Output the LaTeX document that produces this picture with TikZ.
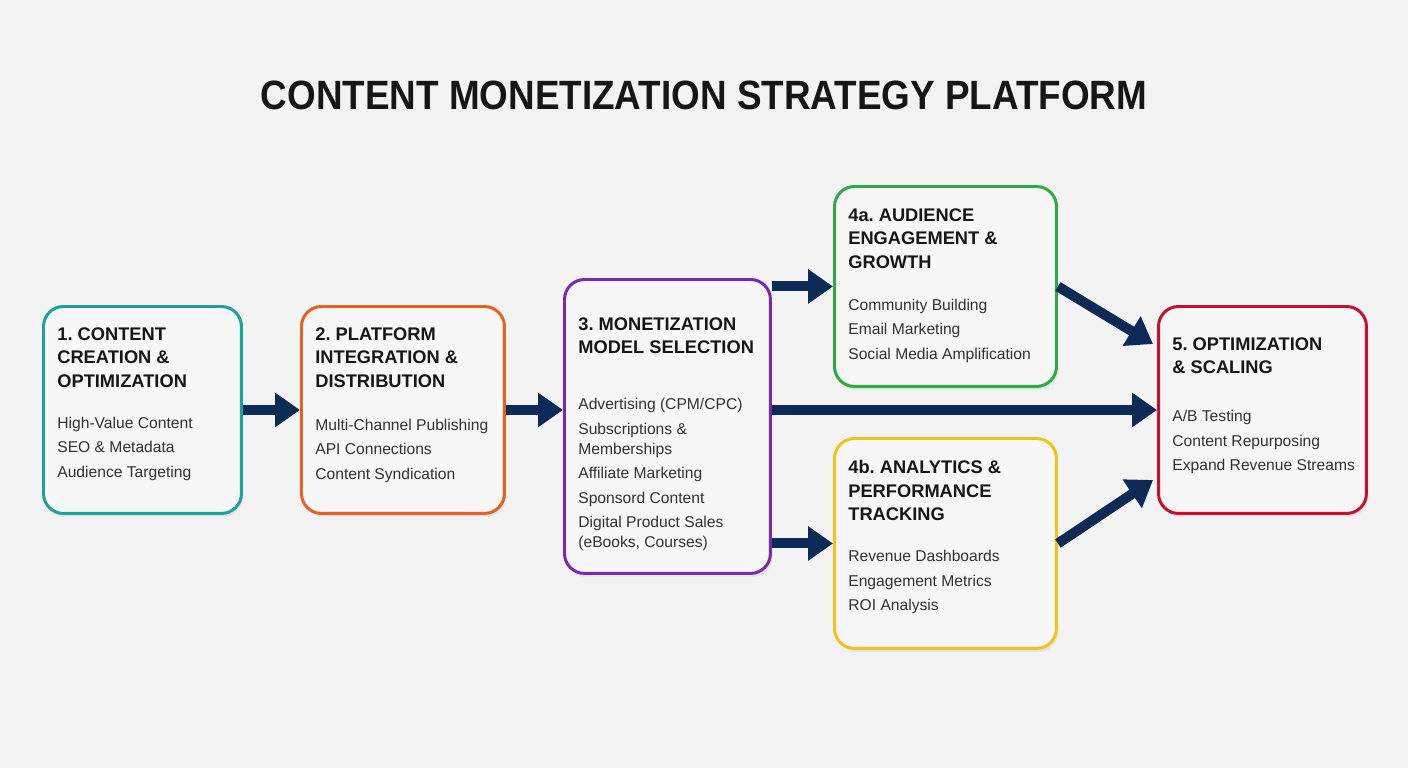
\documentclass[tikz,border=0pt]{standalone}
\usepackage{fontspec}
\setmainfont{Liberation Sans}
\usepackage{xcolor}
\usepackage{graphicx}
\usepackage{tikz}
\usetikzlibrary{arrows.meta, positioning, calc, shadows}
\definecolor{bgcolor}{RGB}{243,243,243}
\definecolor{boxfill}{RGB}{247,247,247}
\definecolor{inkcolor}{RGB}{22,22,22}
\definecolor{bodycolor}{RGB}{50,50,50}
\definecolor{flowcolor}{RGB}{12,42,86}
\definecolor{createcolor}{RGB}{28,160,160}
\definecolor{distcolor}{RGB}{232,96,30}
\definecolor{monocolor}{RGB}{122,40,180}
\definecolor{audcolor}{RGB}{46,170,70}
\definecolor{anacolor}{RGB}{242,195,24}
\definecolor{optcolor}{RGB}{200,16,46}
\frenchspacing

\begin{document}
\begin{tikzpicture}[
    x=0.02cm, y=-0.02cm,
    stage/.style={draw, line width=1.7pt, fill=boxfill, rounded corners=0.4cm, anchor=north west, drop shadow={opacity=0.12, shadow xshift=1pt, shadow yshift=-2pt}},
    headtext/.style={anchor=north west, align=left, inner sep=0pt, text=inkcolor, font=\fontsize{10.4pt}{13.4pt}\selectfont\bfseries},
    bodytext/.style={anchor=north west, align=left, inner sep=0pt, text=bodycolor, font=\fontsize{8.9pt}{13.9pt}\selectfont},
    flow/.style={draw=flowcolor, line width=0.2cm, -{Triangle[length=0.5cm, width=0.66cm]}}
]
    \fill[bgcolor] (0,0) rectangle (1408,768);
    \useasboundingbox (0,0) rectangle (1408,768);

    % Title
    \node[text=inkcolor, font=\fontsize{23.3pt}{28pt}\selectfont\bfseries] (title) at (704,95) {\scalebox{0.9}[1]{CONTENT MONETIZATION STRATEGY PLATFORM}};

    % Stage boxes
    \node[stage, draw=createcolor, minimum width=3.96cm, minimum height=4.14cm] (create) at (42,305) {};
    \node[stage, draw=distcolor, minimum width=4.06cm, minimum height=4.14cm] (dist) at (300,305) {};
    \node[stage, draw=monocolor, minimum width=4.12cm, minimum height=5.88cm] (mono) at (563,278) {};
    \node[stage, draw=audcolor, minimum width=4.44cm, minimum height=4cm] (aud) at (833,185) {};
    \node[stage, draw=anacolor, minimum width=4.44cm, minimum height=4.2cm] (ana) at (833,437) {};
    \node[stage, draw=optcolor, minimum width=4.16cm, minimum height=4.14cm] (opt) at (1157,305) {};

    % Stage texts
    \node[headtext] (createhead) at ($(create.north west)+(15,22)$) {1. CONTENT\\CREATION \&\\OPTIMIZATION};
    \node[bodytext] (createbody) at ($(createhead.south west)+(0,29)$) {High-Value Content\\SEO \& Metadata\\Audience Targeting};

    \node[headtext] (disthead) at ($(dist.north west)+(15,22)$) {2. PLATFORM\\INTEGRATION \&\\DISTRIBUTION};
    \node[bodytext] (distbody) at ($(disthead.south west)+(0,31)$) {Multi-Channel Publishing\\API Connections\\Content Syndication};

    \node[headtext] (monohead) at ($(mono.north west)+(15,39)$) {3. MONETIZATION\\MODEL SELECTION};
    \node[bodytext] (monobody) at ($(monohead.south west)+(0,44)$) {Advertising (CPM/CPC)\\Subscriptions \&\\[-2.5pt]Memberships\\Affiliate Marketing\\Sponsord Content\\Digital Product Sales\\[-2.5pt](eBooks, Courses)};

    \node[headtext] (audhead) at ($(aud.north west)+(15,23)$) {4a. AUDIENCE\\ENGAGEMENT \&\\GROWTH};
    \node[bodytext] (audbody) at ($(audhead.south west)+(0,30)$) {Community Building\\Email Marketing\\Social Media Amplification};

    \node[headtext] (anahead) at ($(ana.north west)+(15,23)$) {4b. ANALYTICS \&\\PERFORMANCE\\TRACKING};
    \node[bodytext] (anabody) at ($(anahead.south west)+(0,29)$) {Revenue Dashboards\\Engagement Metrics\\ROI Analysis};

    \node[headtext] (opthead) at ($(opt.north west)+(15,32)$) {5. OPTIMIZATION\\\& SCALING};
    \node[bodytext] (optbody) at ($(opthead.south west)+(0,36)$) {A/B Testing\\Content Repurposing\\Expand Revenue Streams};

    % Flow arrows
    \draw[flow] (create.east) -- (dist.west);
    \draw[flow] (dist.east) -- (dist.east -| mono.west);
    \draw[flow] (mono.east |- aud.west) -- (aud.west);
    \draw[flow] (mono.east |- opt.west) -- (opt.west);
    \draw[flow] (mono.east |- ana.west) -- (ana.west);
    \draw[flow] (aud.east) -- ($(opt.west)+(-4,-66)$);
    \draw[flow] (ana.east) -- ($(opt.west)+(-4,70)$);
\end{tikzpicture}
\end{document}
